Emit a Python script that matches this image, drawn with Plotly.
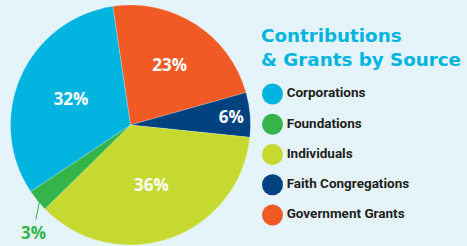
import math
import plotly.graph_objects as go

# Data (clockwise from the top)
labels = ["Government Grants", "Faith Congregations", "Individuals", "Foundations", "Corporations"]
values = [23, 6, 36, 3, 32]
colors = ["#F15A24", "#00427F", "#C5D930", "#35B44A", "#00B4E0"]

legend_labels = ["Corporations", "Foundations", "Individuals", "Faith Congregations", "Government Grants"]
legend_colors = ["#00B4E0", "#35B44A", "#C5D930", "#00427F", "#F15A24"]

title_text = "Contributions<br>& Grants by Source"

W, H = 467, 246
BG = "#E4F4FA"
rotation = -8.5

# pie geometry (pixels)
cx, cy, R = 130.5, 125.0, 120.0
dom_x = [(cx - R) / W, (cx + R) / W]
dom_y = [1 - (cy + R) / H, 1 - (cy - R) / H]

small = [v < 5 for v in values]
texts = ["" if s else f"{v}%" for v, s in zip(values, small)]

fig = go.Figure()
fig.add_trace(go.Pie(
    labels=labels, values=values, sort=False, direction="clockwise",
    rotation=rotation,
    marker=dict(colors=colors, line=dict(width=0.6, color="rgba(255,255,255,0.35)")),
    text=texts, textinfo="text", textposition="inside",
    insidetextorientation="horizontal",
    textfont=dict(family="Open Sans", size=17, color="white", weight=700),
    domain=dict(x=dom_x, y=dom_y), showlegend=False, hoverinfo="label+percent",
))

# outside label for small slice, computed from data
total = sum(values)
cum = 0
for v, s, c in zip(values, small, colors):
    if s:
        mid = rotation + (cum + v / 2) / total * 360
        a = math.radians(mid)
        px = cx + R * 0.97 * math.sin(a)
        py = cy - R * 0.97 * math.cos(a)
        fig.add_annotation(
            x=px / W, y=1 - py / H, xref="paper", yref="paper",
            text=f"{v}%", showarrow=True, arrowhead=0, arrowwidth=1, arrowcolor=c,
            ax=-7, ay=34, font=dict(family="Open Sans", size=17, color=c, weight=700),
        )
    cum += v

# legend drawn as a scatter on its own axes
fig.add_trace(go.Scatter(
    x=[0] * len(legend_labels), y=legend_labels, mode="markers+text",
    marker=dict(size=21, color=legend_colors, line=dict(width=0)),
    text=legend_labels, textposition="middle right",
    textfont=dict(family="Roboto", size=13.5, color="#231F20", weight=700),
    cliponaxis=False, xaxis="x2", yaxis="y2", showlegend=False, hoverinfo="skip",
))

top_px, bot_px = 94 - 15.1, 215 + 15.1
fig.update_layout(
    width=W, height=H, margin=dict(l=0, r=0, t=0, b=0),
    paper_bgcolor=BG, plot_bgcolor=BG,
    xaxis2=dict(domain=[272.5 / W, 1], range=[0, 10], visible=False, fixedrange=True),
    yaxis2=dict(domain=[1 - bot_px / H, 1 - top_px / H], type="category",
                range=[4.5, -0.5], visible=False, fixedrange=True, anchor="x2"),
    xaxis=dict(visible=False), yaxis=dict(visible=False),
)
fig.add_annotation(
    x=259 / W, y=1 - 47.5 / H, xref="paper", yref="paper",
    xanchor="left", yanchor="middle",
    text=title_text, showarrow=False, align="left",
    font=dict(family="DejaVu Sans", size=18.3, color="#00B4E0", weight=700),
)
fig.write_html(
    "out.html",
    config={"displayModeBar": False},
    post_script="document.body.style.margin='0';document.body.style.padding='0';",
)
